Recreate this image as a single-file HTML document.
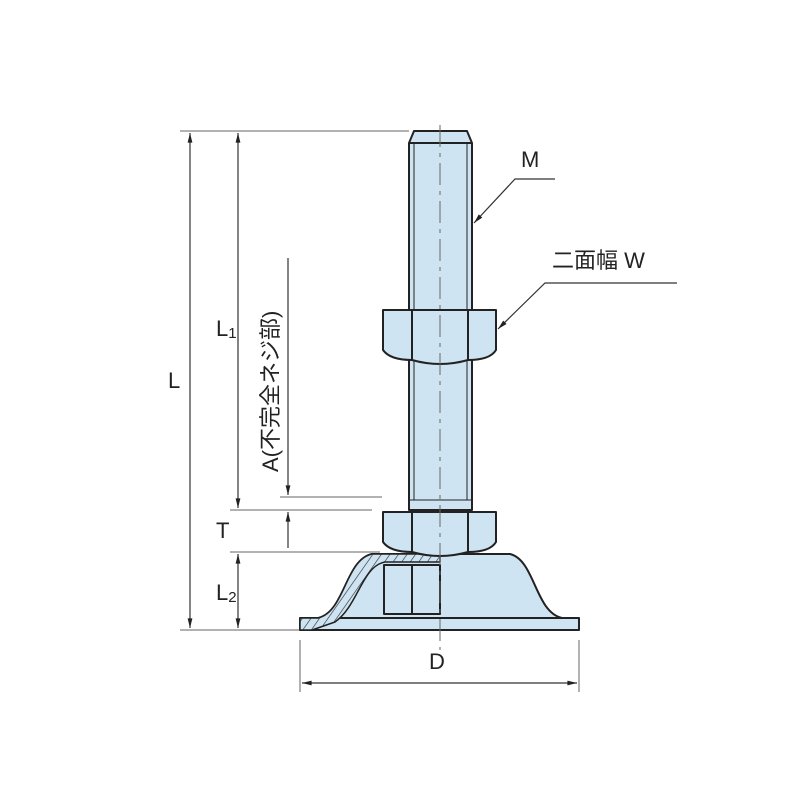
<!DOCTYPE html>
<html><head><meta charset="utf-8"><style>body{margin:0;background:#fff}</style></head><body>
<svg width="800" height="800" viewBox="0 0 800 800" xmlns="http://www.w3.org/2000/svg" font-family="Liberation Sans, Noto Sans CJK JP, sans-serif">
<defs>
<marker id="a" viewBox="0 0 12 10" refX="12" refY="5" markerWidth="10" markerHeight="8" markerUnits="userSpaceOnUse" orient="auto-start-reverse"><path d="M0,2 L12,5 L0,8 z" fill="#222"/></marker>
<pattern id="h" width="7" height="7" patternUnits="userSpaceOnUse" patternTransform="rotate(35)"><rect width="7" height="7" fill="#cfe4f3"/><line x1="0" y1="0" x2="0" y2="7" stroke="#333" stroke-width="1.3"/></pattern>
</defs>
<g stroke="#666" stroke-width="1" fill="none">
<line x1="180" y1="131" x2="409" y2="131"/>
<line x1="180" y1="630" x2="300" y2="630"/>
<line x1="280" y1="497" x2="382" y2="497"/>
<line x1="230" y1="510" x2="372" y2="510"/>
<line x1="230" y1="552" x2="380" y2="552"/>
<line x1="300" y1="640" x2="300" y2="692"/>
<line x1="579" y1="640" x2="579" y2="692"/>
</g>
<g stroke="#333" stroke-width="1.2" fill="none">
<line x1="190" y1="133" x2="190" y2="628" marker-start="url(#a)" marker-end="url(#a)"/>
<line x1="238" y1="133" x2="238" y2="508" marker-start="url(#a)" marker-end="url(#a)"/>
<line x1="238" y1="554" x2="238" y2="628" marker-start="url(#a)" marker-end="url(#a)"/>
<line x1="288" y1="258" x2="288" y2="495" marker-end="url(#a)"/>
<line x1="288" y1="512" x2="288" y2="548" marker-start="url(#a)"/>
<line x1="302" y1="683" x2="577" y2="683" marker-start="url(#a)" marker-end="url(#a)"/>
<polyline points="555,179 515,179 474,223" marker-end="url(#a)"/>
<polyline points="677,283 545,283 498,329" marker-end="url(#a)"/>
</g>
<g stroke="#222" stroke-width="2" fill="#cfe4f3" stroke-linejoin="round">
<path d="M318,618 C345,612 345,560 372,554 L510,554 C535,560 535,612 562,618 Z"/>
<rect x="300" y="618" width="279" height="12"/>
<path d="M300,618 L318,618 C345,612 345,560 372,554 L440,554 L440,562 L385,562 C362,566 358,606 335,622 L312,630 L300,630 Z" fill="url(#h)" stroke-width="1.5"/>
<rect x="384" y="565" width="56" height="49"/>
<line x1="412" y1="565" x2="412" y2="614"/>
<path d="M409,143 L414,131 L467,131 L472,143 L472,510 L409,510 Z"/>
<line x1="409" y1="143" x2="472" y2="143"/>
<line x1="414" y1="143" x2="414" y2="500" stroke-width="1"/>
<line x1="467" y1="143" x2="467" y2="500" stroke-width="1"/>
<line x1="409" y1="500" x2="472" y2="500" stroke-width="1"/>
<path d="M383,310 L496,310 L496,350 Q490,360 468,360 Q440,368 412,360 Q390,360 383,350 Z"/>
<line x1="412" y1="310" x2="412" y2="360"/><line x1="468" y1="310" x2="468" y2="360"/>
<path d="M383,512 L496,512 L496,542 Q490,552 468,552 Q440,560 412,552 Q390,552 383,542 Z"/>
<line x1="412" y1="512" x2="412" y2="552"/><line x1="468" y1="512" x2="468" y2="552"/>
</g>
<line x1="440" y1="125" x2="440" y2="650" stroke="#666" stroke-width="1" stroke-dasharray="22,6,4,6"/>
<g fill="#222" font-size="22">
<text x="168" y="388">L</text>
<text x="216" y="336">L<tspan font-size="15" dy="2">1</tspan></text>
<text x="216" y="538">T</text>
<text x="216" y="600">L<tspan font-size="15" dy="2">2</tspan></text>
<text x="429" y="669">D</text>
<text x="521" y="167" font-size="22">M</text>
<text x="552" y="268" font-size="22">二面幅 W</text>
<text transform="translate(278,472) rotate(-90)" font-size="22">A(不完全ネジ部)</text>
</g>
</svg>
</body></html>
